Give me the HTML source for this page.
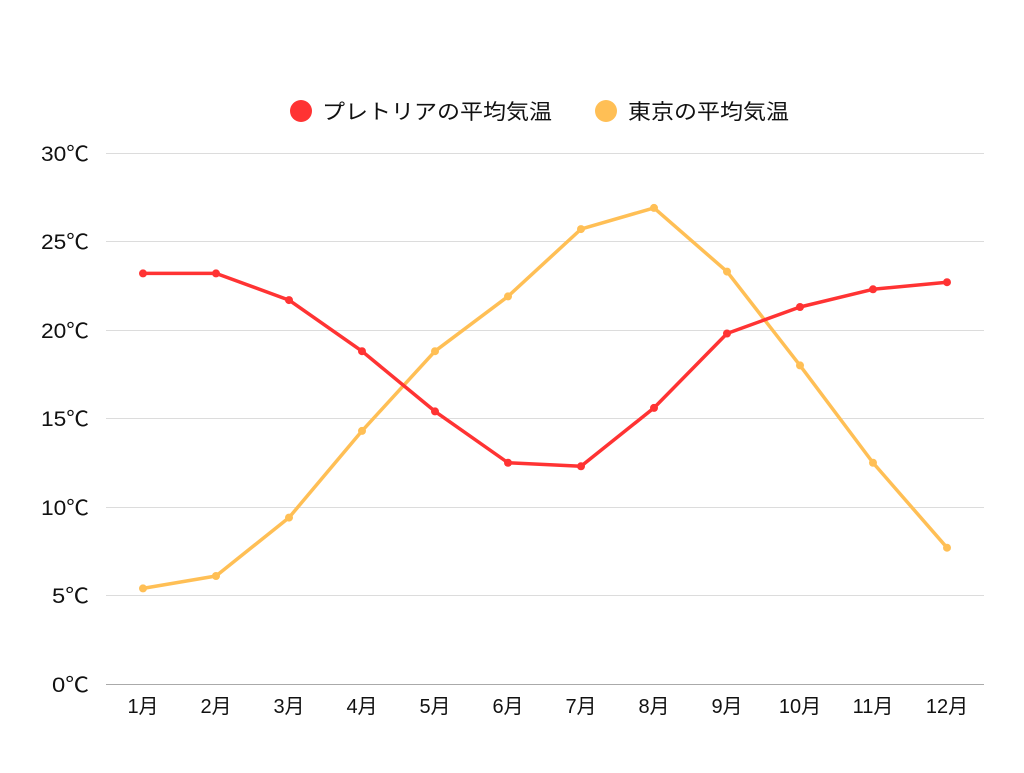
<!DOCTYPE html>
<html><head><meta charset="utf-8"><style>
html,body{margin:0;padding:0;background:#fff;}
text{font-family:"Liberation Sans","Noto Sans CJK JP",sans-serif;fill:#111;}
</style></head><body>
<svg width="1024" height="768" xmlns="http://www.w3.org/2000/svg">
<g stroke="#dcdcdc" stroke-width="1">
<line x1="106" x2="984" y1="153.5" y2="153.5"/>
<line x1="106" x2="984" y1="241.5" y2="241.5"/>
<line x1="106" x2="984" y1="330.5" y2="330.5"/>
<line x1="106" x2="984" y1="418.5" y2="418.5"/>
<line x1="106" x2="984" y1="507.5" y2="507.5"/>
<line x1="106" x2="984" y1="595.5" y2="595.5"/>
</g>
<line x1="106" x2="984" y1="684.5" y2="684.5" stroke="#aaa" stroke-width="1"/>
<g font-size="21" text-anchor="end">
<text x="89" y="161" textLength="48" lengthAdjust="spacingAndGlyphs">30℃</text>
<text x="89" y="249" textLength="48" lengthAdjust="spacingAndGlyphs">25℃</text>
<text x="89" y="338" textLength="48" lengthAdjust="spacingAndGlyphs">20℃</text>
<text x="89" y="426" textLength="48" lengthAdjust="spacingAndGlyphs">15℃</text>
<text x="89" y="515" textLength="48" lengthAdjust="spacingAndGlyphs">10℃</text>
<text x="89" y="603" textLength="37" lengthAdjust="spacingAndGlyphs">5℃</text>
<text x="89" y="692" textLength="37" lengthAdjust="spacingAndGlyphs">0℃</text>
</g>
<g font-size="20" text-anchor="middle">
<text x="143" y="713">1月</text><text x="216" y="713">2月</text><text x="289" y="713">3月</text>
<text x="362" y="713">4月</text><text x="435" y="713">5月</text><text x="508" y="713">6月</text>
<text x="581" y="713">7月</text><text x="654" y="713">8月</text><text x="727" y="713">9月</text>
<text x="800" y="713">10月</text><text x="873" y="713">11月</text><text x="947" y="713">12月</text>
</g>
<polyline fill="none" stroke="#ffbf55" stroke-width="3.5" stroke-linejoin="round" points="143,588.4 216,576 289,517.6 362,430.9 435,351.2 508,296.4 581,229.1 654,207.9 727,271.6 800,365.4 873,462.75 947,547.7"/>
<circle cx="143" cy="588.4" r="4" fill="#ffbf55"/><circle cx="216" cy="576" r="4" fill="#ffbf55"/><circle cx="289" cy="517.6" r="4" fill="#ffbf55"/><circle cx="362" cy="430.9" r="4" fill="#ffbf55"/><circle cx="435" cy="351.2" r="4" fill="#ffbf55"/><circle cx="508" cy="296.4" r="4" fill="#ffbf55"/><circle cx="581" cy="229.1" r="4" fill="#ffbf55"/><circle cx="654" cy="207.9" r="4" fill="#ffbf55"/><circle cx="727" cy="271.6" r="4" fill="#ffbf55"/><circle cx="800" cy="365.4" r="4" fill="#ffbf55"/><circle cx="873" cy="462.75" r="4" fill="#ffbf55"/><circle cx="947" cy="547.7" r="4" fill="#ffbf55"/>
<polyline fill="none" stroke="#ff3333" stroke-width="3.5" stroke-linejoin="round" points="143,273.4 216,273.4 289,300.1 362,351.2 435,411.4 508,462.75 581,466.3 654,407.9 727,333.5 800,307 873,289.3 947,282.2"/>
<circle cx="143" cy="273.4" r="4" fill="#ff3333"/><circle cx="216" cy="273.4" r="4" fill="#ff3333"/><circle cx="289" cy="300.1" r="4" fill="#ff3333"/><circle cx="362" cy="351.2" r="4" fill="#ff3333"/><circle cx="435" cy="411.4" r="4" fill="#ff3333"/><circle cx="508" cy="462.75" r="4" fill="#ff3333"/><circle cx="581" cy="466.3" r="4" fill="#ff3333"/><circle cx="654" cy="407.9" r="4" fill="#ff3333"/><circle cx="727" cy="333.5" r="4" fill="#ff3333"/><circle cx="800" cy="307" r="4" fill="#ff3333"/><circle cx="873" cy="289.3" r="4" fill="#ff3333"/><circle cx="947" cy="282.2" r="4" fill="#ff3333"/>
<circle cx="301" cy="111" r="11" fill="#ff3333"/>
<text x="322" y="119" font-size="21" textLength="230" lengthAdjust="spacingAndGlyphs">プレトリアの平均気温</text>
<circle cx="606" cy="111" r="11" fill="#ffbf55"/>
<text x="628" y="119" font-size="21" textLength="161" lengthAdjust="spacingAndGlyphs">東京の平均気温</text>
</svg>
</body></html>
